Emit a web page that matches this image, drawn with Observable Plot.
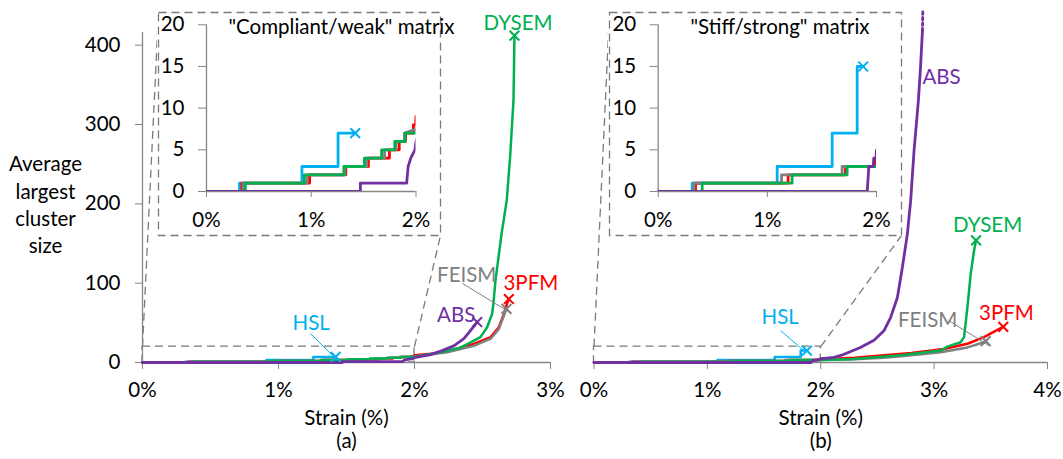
<!DOCTYPE html>
<html><head><meta charset="utf-8">
<script src="https://cdn.jsdelivr.net/npm/d3@7"></script>
<script src="https://cdn.jsdelivr.net/npm/@observablehq/plot@0.6"></script>
<style>
html,body{margin:0;padding:0;background:#fff;}
#root{position:relative;width:1063px;height:459px;overflow:hidden;}
#root svg{position:absolute;max-width:none;}
</style></head><body><div id="root"></div>
<script>
// ---------- data ----------
const seriesNames = ["HSL", "3PFM", "FEISM", "DYSEM", "ABS"];
const seriesColors = {HSL: "#00B0F0", "3PFM": "#FF0000", FEISM: "#808080", DYSEM: "#00B050", ABS: "#7030A0"};

const xTicksA = [0, 1, 2, 3];
const xTicksB = [0, 1, 2, 3, 4];
const yTicks = [0, 100, 200, 300, 400];
const yMax = 416;
const insetXTicks = [0, 1, 2];
const insetYTicks = [0, 5, 10, 15, 20];
const insetX = [0, 2];
const insetY = [0, 20];

const titleA = "\"Compliant/weak\" matrix";
const titleB = "\"Stiff/strong\" matrix";
const axisXLabel = "Strain (%)";
const axisYLabel = "Average\nlargest\ncluster\nsize";
const captionA = "(a)";
const captionB = "(b)";

// (a) compliant / weak matrix: [strain %, average largest cluster size]
const compliantHSL = [[0,0],[0.315,0],[0.315,1],[0.911,1],[0.911,3],[1.256,3],[1.256,7],[1.42,7]];
const compliant3PFM = [[0,0],[0.338,0],[0.338,1],[0.984,1],[0.984,2],[1.33,2],[1.33,3],[1.546,3],[1.546,4],[1.746,4],[1.746,5],[1.84,5],[1.84,6],[1.9,6],[1.9,7],[1.975,7],[1.975,8],[1.995,8],[2.0,9],[2.12,11],[2.24,14],[2.436,23.5],[2.56,32],[2.62,44.5],[2.657,61],[2.68,74],[2.694,80]];
const compliantFEISM = [[0,0],[0.35,0],[0.35,1],[0.96,1],[0.96,2],[1.32,2],[1.32,3],[1.53,3],[1.53,4],[1.70,4],[1.70,5],[1.81,5],[1.81,6],[1.89,6],[1.89,7],[2.0,7.5],[2.24,13],[2.436,21],[2.56,30],[2.62,42],[2.657,59],[2.676,67.6]];
const compliantDYSEM = [[0,0],[0.37,0],[0.37,1],[0.934,1],[0.934,2],[1.311,2],[1.311,3],[1.508,3],[1.508,4],[1.672,4],[1.672,5],[1.797,5],[1.797,6],[1.895,6],[1.895,7],[2.0,7],[2.19,13],[2.34,19],[2.42,26],[2.485,32],[2.534,44.5],[2.57,61],[2.58,74],[2.595,103],[2.602,112],[2.64,162],[2.678,204],[2.703,259],[2.728,331],[2.735,412]];
const compliantABS = [[0,0],[1.469,0],[1.469,1],[1.911,1],[1.925,3],[1.95,4],[1.99,5],[2.0,6],[2.118,10],[2.203,15],[2.289,21],[2.363,30],[2.41,40],[2.461,51]];

// (b) stiff / strong matrix
const stiffHSL = [[0,0],[0.311,0],[0.311,1],[1.09,1],[1.09,3],[1.594,3],[1.594,7],[1.823,7],[1.823,15],[1.878,15]];
const stiff3PFM = [[0,0],[0.342,0],[0.342,1],[1.19,1],[1.19,2],[1.716,2],[1.716,3],[1.99,3],[1.99,4],[2.0,4],[2.3,6],[2.558,9],[2.8,12],[3.087,17],[3.294,23.6],[3.44,32],[3.558,41],[3.61,45]];
const stiffFEISM = [[0,0],[0.327,0],[0.327,1],[1.13,1],[1.13,2],[1.685,2],[1.685,3],[2.0,3],[2.3,4],[2.558,6],[2.8,9],[3.058,13],[3.294,19],[3.44,25.6],[3.455,27]];
const stiffDYSEM = [[0,0],[0.403,0],[0.403,1],[1.227,1],[1.227,2],[1.731,2],[1.731,3],[2.0,3],[2.265,4],[2.705,9],[3.058,15],[3.117,20],[3.235,25.6],[3.264,32],[3.294,70],[3.323,112],[3.352,141],[3.37,154]];
const stiffABS = [[0,0],[1.915,0],[1.93,3],[1.97,3],[1.975,4],[1.995,4],[2.0,5],[2.1,6],[2.2,10],[2.35,19],[2.47,28],[2.557,40],[2.617,57],[2.676,82],[2.72,120],[2.764,162],[2.793,204],[2.823,267],[2.861,330],[2.88,372],[2.897,418]];
const stiffABSBeyond = [[2.897,418],[2.9,442]];

const endMarksA = ["HSL", "3PFM", "FEISM", "DYSEM", "ABS"];
const endMarksB = ["HSL", "3PFM", "FEISM", "DYSEM"];

// label anchors (data units)
const labelsA = [{name:"DYSEM",x:2.507,y:428},{name:"3PFM",x:2.654,y:99.6},{name:"FEISM",x:2.166,y:109.7},{name:"ABS",x:2.166,y:59.2},{name:"HSL",x:1.103,y:49.5}];
const labelsB = [{name:"ABS",x:2.897,y:359.6},{name:"DYSEM",x:3.167,y:172.7},{name:"3PFM",x:3.396,y:61.4},{name:"FEISM",x:2.681,y:52.9},{name:"HSL",x:1.478,y:57.1}];
const leadersA = [{name:"HSL",x1:1.235,y1:36.6,x2:1.397,y2:8.8},{name:"FEISM",x1:2.353,y1:99.6,x2:2.713,y2:61.8}];
const leadersB = [{name:"HSL",x1:1.646,y1:40.3,x2:1.867,y2:13},{name:"FEISM",x1:3.129,y1:52.9,x2:3.482,y2:21.4}];
const insetTitleA = {x:0.21, y:19.7};
const insetTitleB = {x:0.296, y:19.7};

const compliant = {HSL: compliantHSL, "3PFM": compliant3PFM, FEISM: compliantFEISM, DYSEM: compliantDYSEM, ABS: compliantABS};
const stiff = {HSL: stiffHSL, "3PFM": stiff3PFM, FEISM: stiffFEISM, DYSEM: stiffDYSEM, ABS: stiffABS};

// ---------- layout ----------
const W = 1063, H = 459;
const FONT = "Lato, 'Open Sans', sans-serif";
const FS = "20.5px";
const AX = "#878787";
const DASH = "#7a7a7a";
const DASHARRAY = "8,5";
const insetA = {left:157, top:11, width:284, height:225, mL:49, mR:25.5, mT:13.3, mB:45};
const insetB = {left:608, top:11, width:294, height:225, mL:49.7, mR:26, mT:13.3, mB:45};
const panelA = {left:0, width:560, mL:142, mR:10, mT:32, mB:97, inset: insetA};
const panelB = {left:540, width:523, mL:53.5, mR:16, mT:32, mB:97, inset: insetB};

const root = document.getElementById("root");
const px = d => d[0], py = d => d[1];

function mainPlot(p, xTicks, data, endMarks, labels, leaders, caption, showY, extra) {
  const xmax = xTicks[xTicks.length - 1];
  const xs = d3.scaleLinear([0, xmax], [p.mL, p.width - p.mR]);
  const ys = d3.scaleLinear([0, yMax], [H - p.mB, p.mT]);
  const b = p.inset;
  const bx1 = b.left - p.left + 1, by1 = b.top + 1;
  const bx2 = b.left + b.width - p.left - 1, by2 = b.top + b.height - 1;
  const connectors = [
    {x1: insetX[0], y1: insetY[1], x2: xs.invert(bx1), y2: ys.invert(by1)},
    {x1: insetX[1], y1: insetY[1], x2: xs.invert(bx2), y2: ys.invert(by2)}
  ];
  const marks = [
    Plot.rect([{x1: insetX[0], x2: insetX[1], y1: insetY[0], y2: insetY[1]}], {x1:"x1", x2:"x2", y1:"y1", y2:"y2", fill:"none", stroke:DASH, strokeWidth:1.3, strokeDasharray:DASHARRAY}),
    Plot.link(connectors, {x1:"x1", y1:"y1", x2:"x2", y2:"y2", stroke:DASH, strokeWidth:1.3, strokeDasharray:DASHARRAY}),
    Plot.ruleY([0], {stroke:AX, strokeWidth:1.3}),
    Plot.axisX(xTicks, {tickSize:7, tickPadding:13, tickFormat: d => d + "%", stroke:AX, fill:"#000", label:null})
  ];
  if (showY) {
    marks.push(Plot.ruleX([0], {stroke:AX, strokeWidth:1.3}));
    marks.push(Plot.axisY(yTicks, {tickSize:7, tickPadding:15, stroke:AX, fill:"#000", label:null}));
    marks.push(Plot.text([axisYLabel], {frameAnchor:"left", dx:-97, dy:6, lineHeight:1.34, textAnchor:"middle"}));
  }
  for (const n of seriesNames) {
    marks.push(Plot.line(data[n], {x:px, y:py, stroke:seriesColors[n], strokeWidth: n === "ABS" ? 2.8 : 2.5, strokeLinejoin:"round"}));
  }
  if (extra) marks.push(...extra);
  for (const n of endMarks) {
    const d = data[n];
    marks.push(Plot.dot([d[d.length - 1]], {x:px, y:py, symbol:"times", r:4.5, stroke:seriesColors[n], strokeWidth:2}));
  }
  for (const l of leaders) {
    marks.push(Plot.link([l], {x1:"x1", y1:"y1", x2:"x2", y2:"y2", stroke:seriesColors[l.name], strokeWidth:1}));
  }
  for (const l of labels) {
    marks.push(Plot.text([l], {x:"x", y:"y", text:"name", fill:seriesColors[l.name], textAnchor:"start"}));
  }
  marks.push(Plot.text([axisXLabel], {frameAnchor:"bottom", dy:62}));
  marks.push(Plot.text([caption], {frameAnchor:"bottom", dy:85}));

  const svg = Plot.plot({
    width: p.width, height: H,
    marginLeft: p.mL, marginRight: p.mR, marginTop: p.mT, marginBottom: p.mB,
    x: {domain: [0, xmax]}, y: {domain: [0, yMax], axis: showY ? undefined : null},
    style: {fontFamily: FONT, fontSize: FS, color: "#000", background: "transparent", overflow: "visible"},
    marks
  });
  svg.style.left = p.left + "px";
  svg.style.top = "0px";
  root.appendChild(svg);
}

function insetPlot(b, data, title, titlePos) {
  const marks = [
    Plot.frame({stroke:DASH, strokeWidth:1.3, strokeDasharray:DASHARRAY, fill:"none",
      insetLeft: -(b.mL - 1), insetRight: -(b.mR - 1), insetTop: -(b.mT - 1), insetBottom: -(b.mB - 1)}),
    Plot.ruleY([0], {stroke:AX, strokeWidth:1.3}),
    Plot.ruleX([0], {stroke:AX, strokeWidth:1.3}),
    Plot.axisX(insetXTicks, {tickSize:6, tickPadding:15, tickFormat: d => d + "%", stroke:AX, fill:"#000", label:null}),
    Plot.axisY(insetYTicks, {tickSize:8, tickPadding:14, stroke:AX, fill:"#000", label:null})
  ];
  for (const n of seriesNames) {
    marks.push(Plot.line(data[n], {x:px, y:py, stroke:seriesColors[n], strokeWidth:2.8, clip:true}));
  }
  for (const n of seriesNames) {
    const d = data[n];
    const last = d[d.length - 1];
    if (last[0] < insetX[1]) marks.push(Plot.dot([last], {x:px, y:py, symbol:"times", r:4.5, stroke:seriesColors[n], strokeWidth:2}));
  }
  marks.push(Plot.text([title], {x: titlePos.x, y: titlePos.y, textAnchor:"start"}));
  const svg = Plot.plot({
    width: b.width, height: b.height,
    marginLeft: b.mL, marginRight: b.mR, marginTop: b.mT, marginBottom: b.mB,
    x: {domain: insetX}, y: {domain: insetY},
    style: {fontFamily: FONT, fontSize: FS, color: "#000", background: "white", overflow: "visible"},
    marks
  });
  svg.style.left = b.left + "px";
  svg.style.top = b.top + "px";
  root.appendChild(svg);
}

mainPlot(panelA, xTicksA, compliant, endMarksA, labelsA, leadersA, captionA, true, null);
mainPlot(panelB, xTicksB, stiff, endMarksB, labelsB, leadersB, captionB, false,
  [Plot.line(stiffABSBeyond, {x:px, y:py, stroke:seriesColors.ABS, strokeWidth:2.8, strokeDasharray:"2.5,3"})]);
insetPlot(insetA, compliant, titleA, insetTitleA);
insetPlot(insetB, stiff, titleB, insetTitleB);
</script>
</body></html>
